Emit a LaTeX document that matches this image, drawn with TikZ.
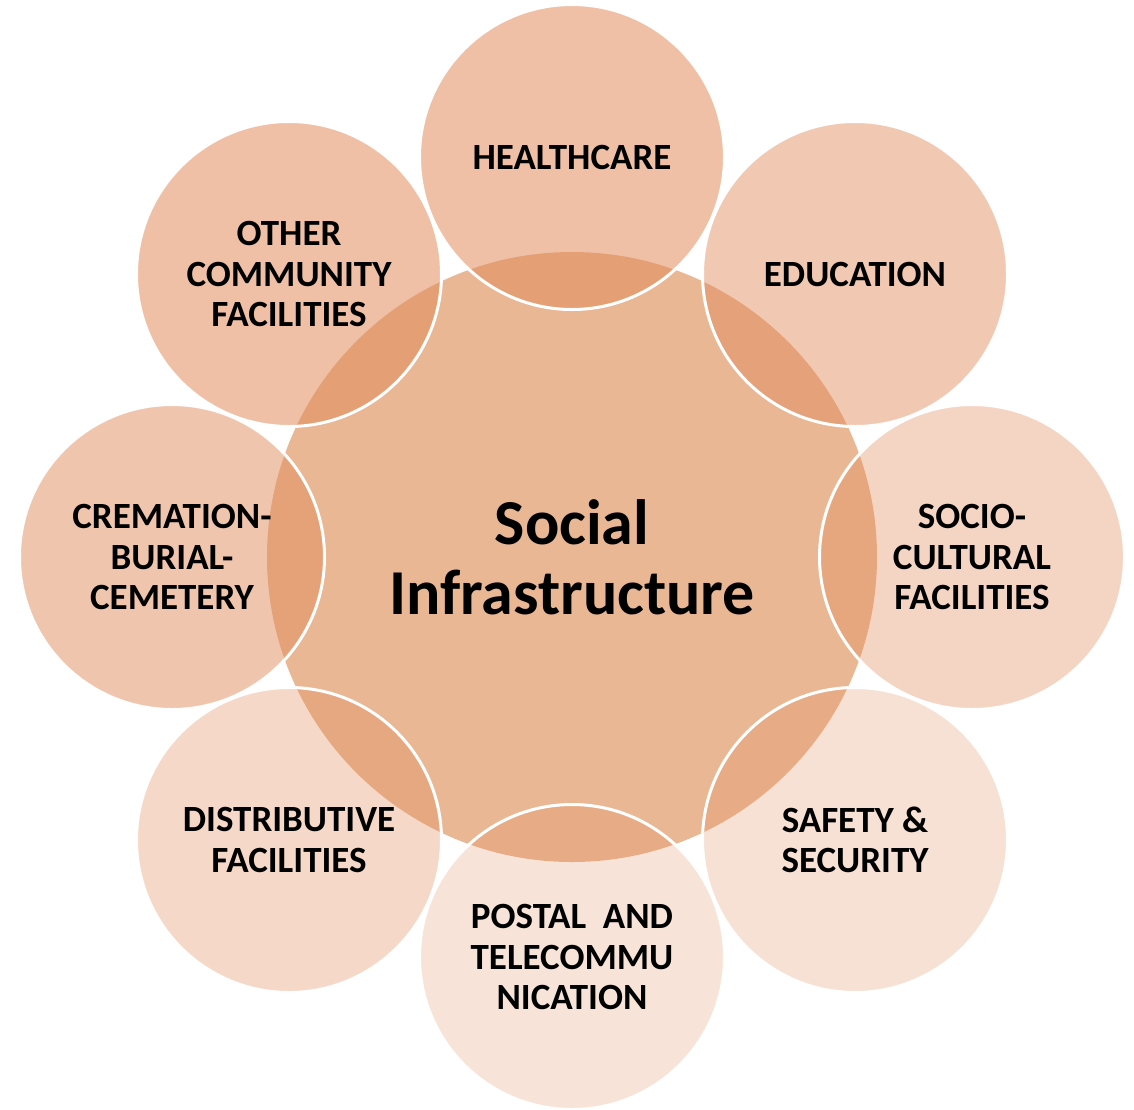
\documentclass[tikz,border=0pt]{standalone}
\usepackage{fontspec}
\setmainfont{Carlito}
\definecolor{hubfill}{RGB}{233,183,148}
\definecolor{petalfill}{RGB}{226,140,93}
\tikzset{
  hub/.style={circle, minimum size=610pt, inner sep=0pt, fill=hubfill, align=center,
    font=\fontsize{64}{70}\selectfont\bfseries},
  petal/.style={circle, minimum size=305pt, inner sep=0pt, draw=white, line width=3pt,
    fill=petalfill, text opacity=1, align=center,
    font=\fontsize{37}{40.5}\selectfont\bfseries},
}
\begin{document}
\begin{tikzpicture}[x=1pt,y=-1pt]
\useasboundingbox (0,0) rectangle (1134,1109);
\node[hub] (social) at (572,557) {Social\\Infrastructure};
\node[petal, fill opacity=.55] (health) at (572,157) {HEALTHCARE};
\node[petal, fill opacity=.47] (edu) at (855,274) {EDUCATION};
\node[petal, fill opacity=.37] (socio) at (972,557) {SOCIO-\\CULTURAL\\FACILITIES};
\node[petal, fill opacity=.26] (safety) at (855,840) {SAFETY \&\\SECURITY};
\node[petal, fill opacity=.24] (postal) at (572,957) {POSTAL\ \ AND\\TELECOMMU\\NICATION};
\node[petal, fill opacity=.34] (distrib) at (289,840) {DISTRIBUTIVE\\FACILITIES};
\node[petal, fill opacity=.50] (burial) at (172,557) {CREMATION-\\BURIAL-\\CEMETERY};
\node[petal, fill opacity=.55] (other) at (289,274) {OTHER\\COMMUNITY\\FACILITIES};
\end{tikzpicture}
\end{document}
